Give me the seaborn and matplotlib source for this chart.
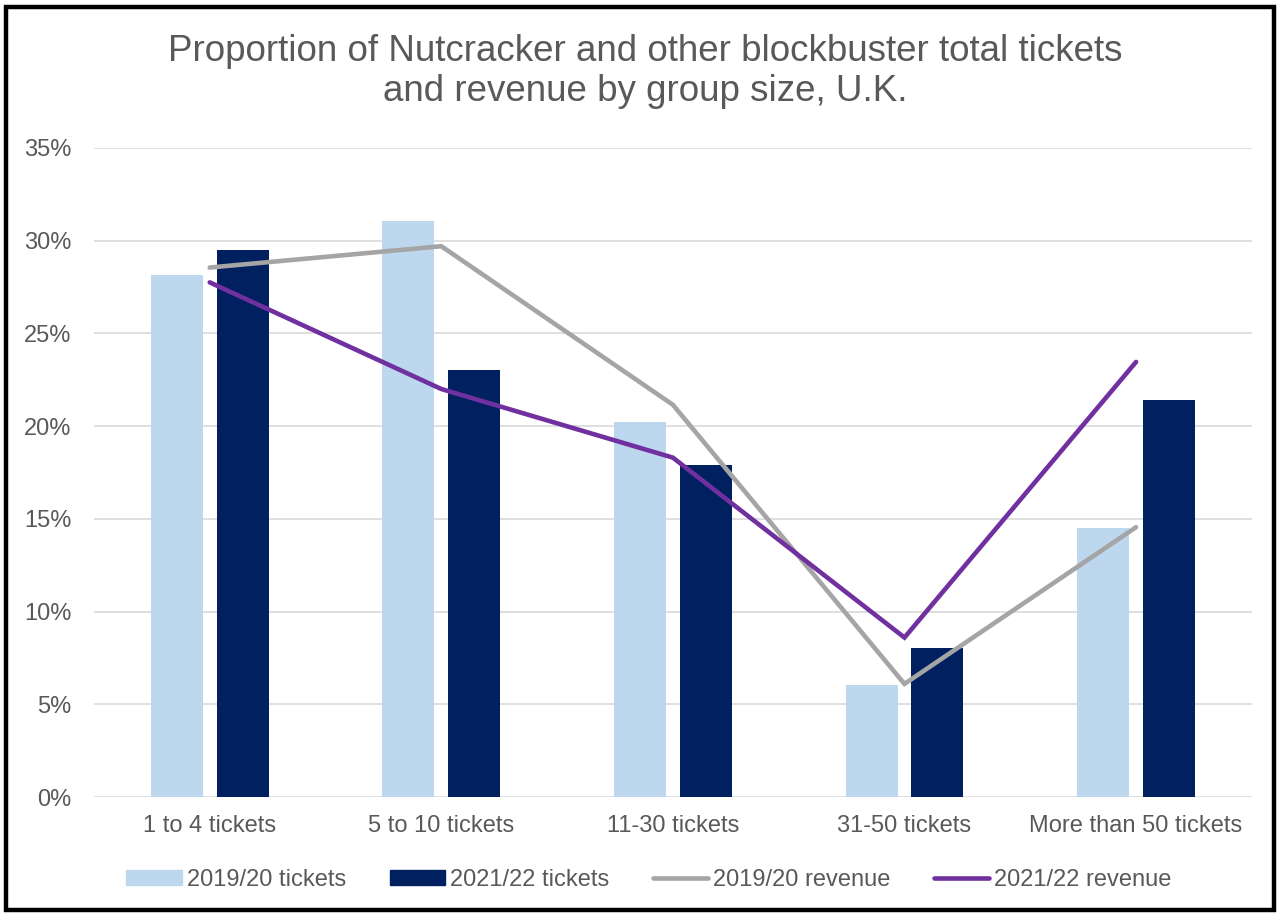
import matplotlib
matplotlib.use("Agg")
import matplotlib.pyplot as plt
from matplotlib.patches import Rectangle, Patch
from matplotlib.lines import Line2D
from matplotlib.ticker import PercentFormatter
import pandas as pd
import seaborn as sns

# data
groups = ["1 to 4 tickets", "5 to 10 tickets", "11-30 tickets",
          "31-50 tickets", "More than 50 tickets"]
tickets_1920 = [0.2815, 0.3107, 0.2020, 0.0605, 0.1450]
tickets_2122 = [0.2950, 0.2300, 0.1790, 0.0805, 0.2140]
revenue_1920 = [0.2855, 0.2970, 0.2115, 0.0610, 0.1455]
revenue_2122 = [0.2775, 0.2200, 0.1830, 0.0860, 0.2346]
yticks = [0, 0.05, 0.10, 0.15, 0.20, 0.25, 0.30, 0.35]

sns.set_theme(style="white")
plt.rcParams["font.family"] = ["Liberation Sans", "DejaVu Sans"]

text_col = "#595959"
pal_bars = {"2019/20 tickets": "#BDD7EE", "2021/22 tickets": "#002060"}
pal_lines = {"2019/20 revenue": "#A5A5A5", "2021/22 revenue": "#7030A0"}

bars = pd.DataFrame({
    "group": groups * 2,
    "share": tickets_1920 + tickets_2122,
    "series": ["2019/20 tickets"] * 5 + ["2021/22 tickets"] * 5,
})
lines = pd.DataFrame({
    "group": groups * 2,
    "share": revenue_1920 + revenue_2122,
    "series": ["2019/20 revenue"] * 5 + ["2021/22 revenue"] * 5,
})

fig = plt.figure(figsize=(12.8, 9.13), dpi=100)
ax = fig.add_axes([0.0734, 0.127, 0.9046, 0.711])

ax.set_axisbelow(True)
ax.grid(axis="y", color="#D9D9D9", linewidth=1.2)

sns.barplot(data=bars, x="group", y="share", hue="series", palette=pal_bars,
            order=groups, width=0.569, gap=0.21, ax=ax, legend=False,
            edgecolor="none", saturation=1)
sns.lineplot(data=lines, x="group", y="share", hue="series", palette=pal_lines,
             linewidth=3.3, ax=ax, legend=False, solid_capstyle="round",
             solid_joinstyle="miter")

ax.set_xlim(-0.5, 4.5)
ax.set_ylim(0, 0.35)
ax.set_yticks(yticks)
ax.yaxis.set_major_formatter(PercentFormatter(1.0, decimals=0))
ax.set_xlabel("")
ax.set_ylabel("")
for s in ax.spines.values():
    s.set_visible(False)
ax.tick_params(axis="y", length=0, pad=16, labelsize=17, labelcolor=text_col)
ax.tick_params(axis="x", length=0, pad=13, labelsize=17, labelcolor=text_col)

fig.text(0.504, 0.9215, "Proportion of Nutcracker and other blockbuster total tickets\n"
         "and revenue by group size, U.K.", ha="center", va="center",
         fontsize=26.5, color=text_col, linespacing=1.2)

handles = [Patch(color=pal_bars["2019/20 tickets"]),
           Patch(color=pal_bars["2021/22 tickets"]),
           Line2D([], [], color=pal_lines["2019/20 revenue"], lw=3.3),
           Line2D([], [], color=pal_lines["2021/22 revenue"], lw=3.3)]
labels = ["2019/20 tickets", "2021/22 tickets", "2019/20 revenue", "2021/22 revenue"]
leg = fig.legend(handles, labels, loc="center", bbox_to_anchor=(0.507, 0.036),
                 ncol=4, frameon=False, fontsize=17, handlelength=2.35,
                 handleheight=0.6, handletextpad=0.2, columnspacing=1.85)
for t in leg.get_texts():
    t.set_color(text_col)

fig.patches.append(Rectangle((0.0047, 0.003), 0.9906, 0.989, transform=fig.transFigure,
                             fill=False, edgecolor="black", linewidth=3.2))

fig.savefig("out.png", dpi=100)
